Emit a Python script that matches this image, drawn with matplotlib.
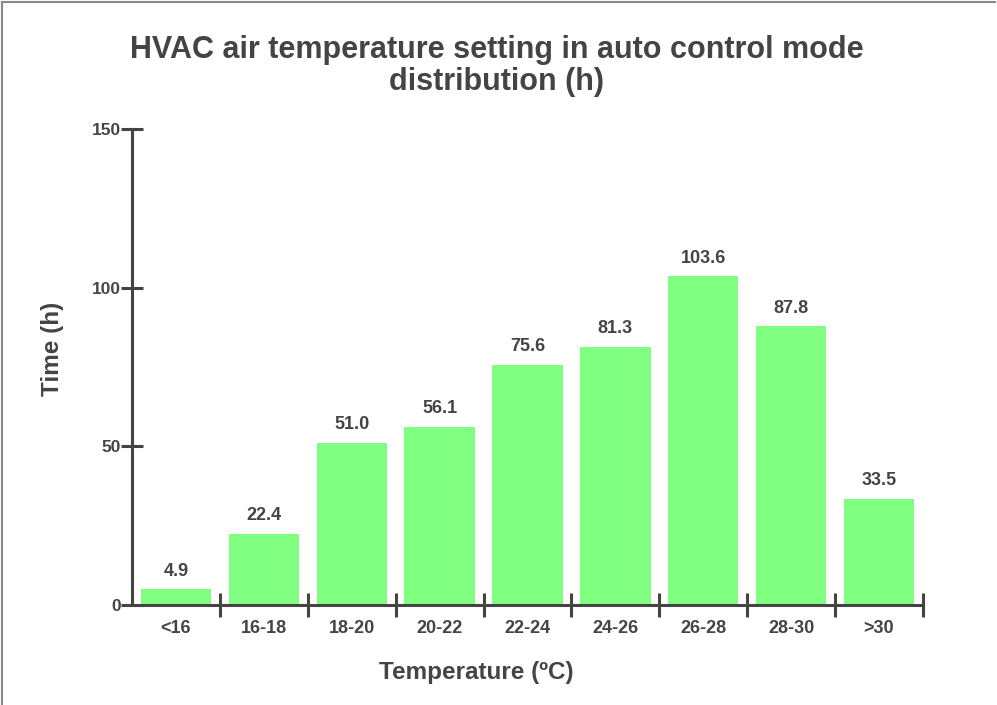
import matplotlib
matplotlib.use("Agg")
import matplotlib.pyplot as plt
from matplotlib.lines import Line2D
import numpy as np

categories = ["<16", "16-18", "18-20", "20-22", "22-24", "24-26", "26-28", "28-30", ">30"]
values = [4.9, 22.4, 51.0, 56.1, 75.6, 81.3, 103.6, 87.8, 33.5]
yticks = [0, 50, 100, 150]

plt.rcParams['font.family'] = ['Liberation Sans', 'DejaVu Sans']
plt.rcParams['font.weight'] = 'bold'
txt = '#444444'
bar_color = '#80FF80'

fig = plt.figure(figsize=(9.97, 7.05), dpi=100)
ax = fig.add_axes([132/997, 100/705, (923-132)/997, (605-129)/705])

x = np.arange(len(categories))
bars = ax.bar(x, values, width=0.8, color=bar_color, zorder=2)
for xi, v in zip(x, values):
    ax.annotate(f"{v:.1f}", (xi, v), xytext=(0, 7), textcoords='offset points',
                ha='center', va='bottom', fontsize=13, fontweight='bold', color=txt)

ax.set_xlim(-0.5, len(categories) - 0.5)
ax.set_ylim(0, 150)
ax.set_yticks(yticks)
ax.set_yticklabels([str(t) for t in yticks])

ax.set_xticks(np.arange(len(categories)) + 0.5)
ax.set_xticklabels([])
ax.set_xticks(x, minor=True)
ax.set_xticklabels(categories, minor=True)

for s in ['top', 'right']:
    ax.spines[s].set_visible(False)
for s in ['left', 'bottom']:
    ax.spines[s].set_linewidth(2.2)
    ax.spines[s].set_color(txt)

ax.tick_params(axis='y', which='major', direction='inout', length=16.5, width=2.2,
               color=txt, labelcolor=txt, labelsize=12.5, pad=0)
ax.tick_params(axis='x', which='major', direction='inout', length=17, width=2.2,
               color=txt)
ax.tick_params(axis='x', which='minor', length=0, labelcolor=txt, labelsize=13, pad=11)
for lab in ax.get_xticklabels(minor=True) + ax.get_yticklabels():
    lab.set_fontweight('bold')

ax.set_xlabel("Temperature (ºC)", fontsize=17.5, fontweight='bold', color=txt)
ax.set_ylabel("Time (h)", fontsize=17.5, fontweight='bold', color=txt)
ax.xaxis.label.set_va('center')
ax.yaxis.label.set_va('center')
ax.xaxis.set_label_coords(0.5 - (132 + 791/2 - 476) / 791, -(672 - 605) / 476)
ax.yaxis.set_label_coords(-(132 - 52) / 791, 0.5 + (129 + 238 - 349) / 476)

fig.text(0.498, 1 - 66/705, "HVAC air temperature setting in auto control mode\ndistribution (h)",
         ha='center', va='center', fontsize=22, fontweight='bold', color=txt,
         linespacing=1.1)

fig.add_artist(Line2D([2/997, 2/997], [0, 1 - 2/705], transform=fig.transFigure,
                      color='#888888', linewidth=1.5))
fig.add_artist(Line2D([2/997, 995/997], [1 - 2/705, 1 - 2/705], transform=fig.transFigure,
                      color='#888888', linewidth=1.5))

fig.savefig("out.png", dpi=100)
